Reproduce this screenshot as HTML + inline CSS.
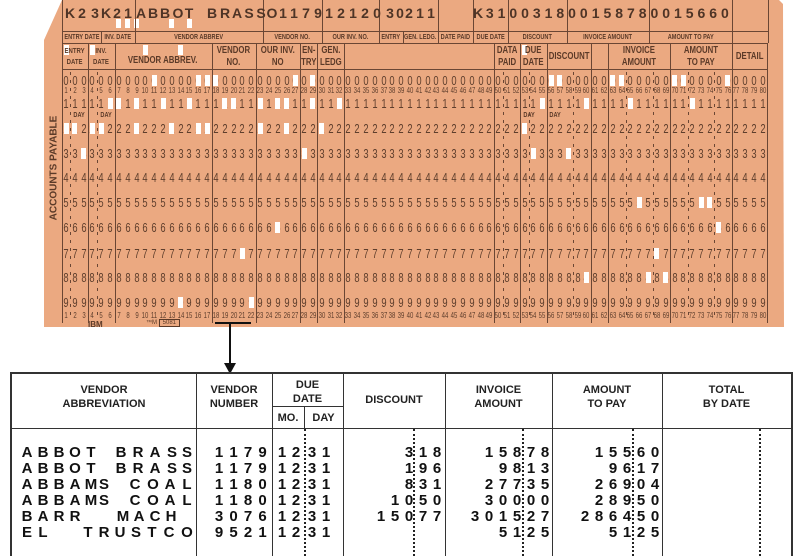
<!DOCTYPE html>
<html><head><meta charset="utf-8">
<style>
html,body{margin:0;padding:0;background:#fff;}
body{width:800px;height:556px;position:relative;overflow:hidden;font-family:"Liberation Sans",sans-serif;}
#card{position:absolute;left:0;top:0;width:800px;height:330px;}
.cardbg{position:absolute;left:0;top:0;width:800px;height:330px;background:#eba981;
 clip-path:polygon(62px 0,779px 0,783px 4px,784px 327px,44px 327px,44px 40px);}
.a{position:absolute;white-space:pre;color:#5b3a28;}
.d{position:absolute;font-size:13px;color:#5e3e2c;transform:scaleX(.72);transform-origin:center;width:10px;text-align:center;line-height:13px;}
.n{position:absolute;font-size:8px;color:#5e3e2c;transform:scaleX(.75);width:10px;text-align:center;line-height:8px;}
.h{position:absolute;background:#fff;width:5px;height:11px;}
.vl{position:absolute;background:#6a4634;width:1px;}
.hl{position:absolute;background:#6a4634;height:1px;}
.pr{position:absolute;font-size:14px;font-weight:bold;color:#4e3426;width:12px;text-align:center;line-height:15px;}
.lb{position:absolute;font-size:7px;font-weight:bold;color:#5b3a28;text-align:center;line-height:9px;white-space:nowrap;}
.lbw{position:absolute;display:flex;justify-content:center;}
.lbw span{display:inline-block;font-size:7px;font-weight:bold;color:#5b3a28;white-space:nowrap;transform:scaleX(.8);line-height:9px;}
.lb2{position:absolute;display:flex;justify-content:center;}
.lb2 span{display:inline-block;font-size:10px;font-weight:bold;color:#5b3a28;text-align:center;line-height:12px;white-space:nowrap;transform:scaleX(.78);}
.t{position:absolute;font-size:15px;font-weight:bold;color:#111;width:14px;text-align:center;line-height:15px;}
.th{position:absolute;font-size:11px;font-weight:bold;color:#222;text-align:center;line-height:14px;}
.tl{position:absolute;background:#333;}
.dot{position:absolute;width:0;border-left:2px dotted #222;}
</style></head><body>
<div id="card"><div class="cardbg"></div>
<div class="a" style="top:168px;transform:translate(-50%,-50%) rotate(-90deg);left:54px;font-size:10px;font-weight:bold;">ACCOUNTS PAYABLE</div>
<div class="a" style="left:88px;top:320px;font-size:8px;font-weight:bold;">IBM</div>
<div class="a" style="left:146px;top:320px;font-size:6px;">™M <span style="border:1px solid #5b3a28;padding:0 3px">5081</span></div>
</div>
<script>
const C=document.getElementById('card');
function el(cls,css,txt){const e=document.createElement('div');e.className=cls;e.style.cssText=css;if(txt!==undefined)e.textContent=txt;C.appendChild(e);return e;}
const cx=c=>66+(c-1)*8.82;
const rowY=[80,103,128,153,177,202,227,253,277,302];
for(let r=0;r<10;r++)for(let c=1;c<=80;c++)el('d',`left:${cx(c)-5}px;top:${rowY[r]-6}px`,String(r));
for(let c=1;c<=80;c++){el('n',`left:${cx(c)-5}px;top:87px`,String(c));el('n',`left:${cx(c)-5}px;top:312px`,String(c));}
[2.5,5.5,53.5,56.5].forEach(c=>{const e=el('lbw',`left:${cx(c)-10}px;top:111px;width:20px`);e.innerHTML='<span>DAY</span>';});
const holes=[[0,11],[0,16],[0,17],[0,18],[0,27],[0,29],[0,56],[0,57],[0,63],[0,64],[0,70],[0,71],[0,76],
[1,7],[1,9],[1,12],[1,15],[1,19],[1,20],[1,23],[1,25],[1,26],[1,29],[1,32],[1,55],[1,60],[1,65],[1,72],[1,6],
[2,1],[2,2],[2,4],[2,5],[2,9],[2,13],[2,16],[2,17],[2,23],[2,26],[2,30],[2,53],
[3,3],[3,28],[3,54],[3,58],[5,66],[5,73],[5,74],[6,75],[6,25],[7,68],[7,21],[8,60],[8,67],[8,69],[9,14],[9,22]];
holes.forEach(([r,c])=>el('h',`left:${cx(c)-2.5}px;top:${rowY[r]-5}px`));
[7,8,9,13,15].forEach(c=>el('h',`left:${cx(c)-2.5}px;top:19px;height:9px`));
[1,4,10,14,53].forEach(c=>el('h',`left:${cx(c)-2.5}px;top:45px;height:10px`));
const seps=[0,3,6,17,22,27,29,32,49,52,55,60,62,69,76,80];
seps.forEach(s=>{const x=61.6+8.82*s;el('vl',`left:${x}px;top:43px;height:280px`);});
[1,4,50,53,58,64,67,71,74].forEach(s=>{const x=61.6+8.82*s;el('vl',`left:${x}px;top:72px;height:245px;background:repeating-linear-gradient(#6a4634 0 3px,transparent 3px 8px)`);});
[62,135,263,322,379,438,473,508,567,649,732,768].forEach(x=>el('vl',`left:${x}px;top:0;height:43px`));
[101,403].forEach(x=>el('vl',`left:${x}px;top:31px;height:12px`));
el('hl','left:62px;top:31px;width:706px');
el('hl','left:62px;top:43px;width:706px');
el('hl','left:62px;top:69px;width:706px');
const p1=[['K',70],['2',82],['3',95],['K',106],['2',117],['1',128],['A',141],['B',153],['B',165],['O',178],['T',189],['B',212],['R',225],['A',237],['S',249],['S',261],['O',272],['1',283],['1',294],['7',306],['9',318],['1',329],['2',341],['1',353],['2',365],['0',377],['3',390],['0',400],['2',409],['1',420],['1',431]];
p1.forEach(([ch,x])=>el('pr',`left:${x-6}px;top:6px`,ch));
const s2="K310031800158780015660";
for(let i=0;i<s2.length;i++)el('pr',`left:${478+i*11.76-6}px;top:6px`,s2[i]);
[[62,101,'ENTRY DATE'],[101,135,'INV.  DATE'],[135,263,'VENDOR  ABBREV'],[263,322,'VENDOR NO.'],[322,379,'OUR INV.  NO.'],[379,403,'ENTRY'],[403,438,'GEN. LEDG.'],[438,473,'DATE PAID'],[473,508,'DUE  DATE'],[508,567,'DISCOUNT'],[567,649,'INVOICE  AMOUNT'],[649,732,'AMOUNT TO  PAY']]
.forEach(([a,b,t])=>{const e=el('lbw',`left:${a}px;width:${b-a}px;top:33px`);e.innerHTML='<span>'+t+'</span>';});
const s2h=[[0,3,'ENTRY<br>DATE',1],[3,6,'INV.<br>DATE',1],[6,17,'VENDOR ABBREV.',0],[17,22,'VENDOR<br>NO.',2],[22,27,'OUR INV.<br>NO',2],[27,29,'EN-<br>TRY',2],[29,32,'GEN.<br>LEDG',2],[49,52,'DATA<br>PAID',2],[52,55,'DUE<br>DATE',2],[55,60,'DISCOUNT',0],[62,69,'INVOICE<br>AMOUNT',2],[69,76,'AMOUNT<br>TO PAY',2],[76,80,'DETAIL',0]];
s2h.forEach(([a,b,t,k])=>{const x1=61.6+8.82*a,x2=61.6+8.82*b;const e=el('lb2',`left:${x1}px;width:${x2-x1}px;top:${k==0?(a==6?55:51):45}px`);
 e.innerHTML='<span'+(k==1?' style="font-size:7.5px;line-height:11px;transform:scaleX(.8)"':'')+'>'+t+'</span>';});
const B=document.body;
function bel(cls,css,txt){const e=document.createElement('div');e.className=cls;e.style.cssText=css;if(txt!==undefined)e.textContent=txt;B.appendChild(e);return e;}
bel('tl','left:215px;top:322px;width:36px;height:2px;background:#111');
bel('tl','left:229px;top:323px;width:2px;height:42px;background:#111');
bel('','position:absolute;left:224px;top:363px;width:0;height:0;border-left:6px solid transparent;border-right:6px solid transparent;border-top:11px solid #111');
bel('tl','left:10px;top:372px;width:783px;height:2px');
bel('tl','left:10px;top:372px;width:2px;height:184px');
bel('tl','left:791px;top:372px;width:2px;height:184px');
bel('tl','left:10px;top:428px;width:783px;height:1px');
bel('tl','left:272px;top:406px;width:71px;height:1px');
[196,272,343,445,552,662].forEach(x=>bel('tl',`left:${x}px;top:373px;width:1px;height:183px`));
bel('tl','left:304px;top:407px;width:1px;height:22px');
[304,413,522,632,759].forEach(x=>bel('dot',`left:${x}px;top:429px;height:127px`));
[[12,196,383,'VENDOR<br>ABBREVIATION'],[196,272,383,'VENDOR<br>NUMBER'],[272,343,378,'DUE<br>DATE'],[343,445,393,'DISCOUNT'],[445,552,383,'INVOICE<br>AMOUNT'],[552,662,383,'AMOUNT<br>TO PAY'],[662,791,383,'TOTAL<br>BY DATE'],[272,304,411,'MO.'],[304,343,411,'DAY']]
.forEach(([a,b,y,t])=>{const e=bel('th',`left:${a}px;width:${b-a}px;top:${y}px`);e.innerHTML=t;});
const rows=[["ABBOT BRASS","1179","318","15878","15560"],["ABBOT BRASS","1179","196","9813","9617"],["ABBAMS COAL","1180","831","27735","26904"],["ABBAMS COAL","1180","1050","30000","28950"],["BARR MACH","3076","15077","301527","286450"],["EL TRUST CO","9521","","5125","5125"]];
rows.forEach((r,i)=>{const y=445+i*16;
 const w=r[0].split(' ');let xs=[];
 if(i<2){xs=[[27,43,59,75,91],[121,138,155,172,187]];}
 else if(i<4){xs=[[27,43,59,75,91,104],[135,153,170,187]];}
 else if(i==4){xs=[[27,43,59,75],[123,139,155,171]];}
 else {xs=[[27,43],[88,104,120,136,152],[169,187]];}
 w.forEach((wd,k)=>{for(let j=0;j<wd.length;j++)bel('t',`left:${xs[k][j]-7}px;top:${y}px`,wd[j]);});
 for(let j=0;j<4;j++)bel('t',`left:${219+j*14.5-7}px;top:${y}px`,r[1][j]);
 [282,296,312,326].forEach((x,j)=>bel('t',`left:${x-7}px;top:${y}px`,"1231"[j]));
 [[r[2],437],[r[3],545],[r[4],655]].forEach(([s,last])=>{for(let j=0;j<s.length;j++)bel('t',`left:${last-(s.length-1-j)*14-7}px;top:${y}px`,s[j]);});
});
</script>
</body></html>
